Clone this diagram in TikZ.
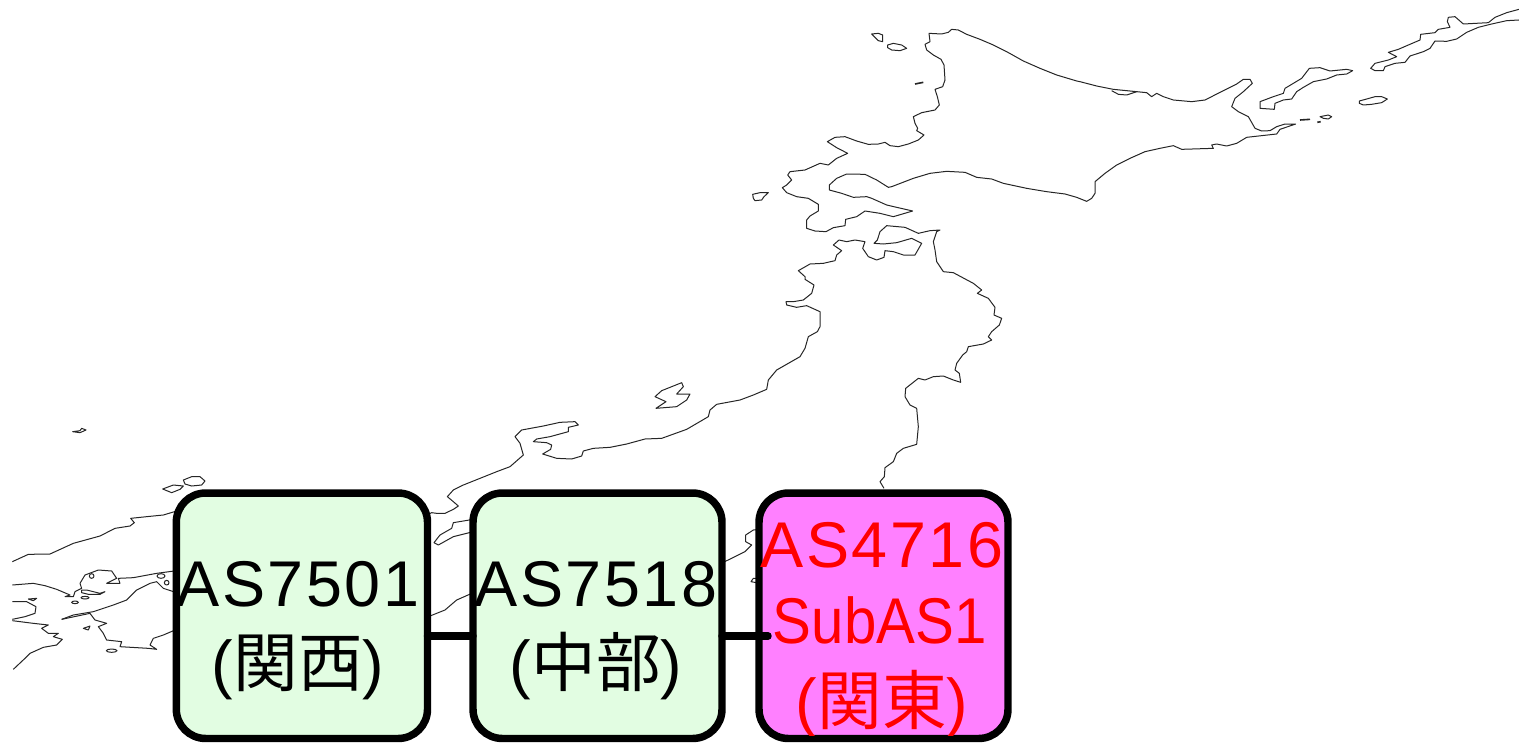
\documentclass[tikz,border=0pt]{standalone}
\usepackage{fontspec}
\setmainfont{Liberation Sans}
\newfontfamily\lsfont[LetterSpace=4]{Liberation Sans}
\newfontfamily\cjkf{Noto Sans CJK JP}
\newcommand{\cj}[1]{{\cjkf #1}}
\definecolor{boxgreen}{HTML}{E2FDE2}
\definecolor{boxpink}{HTML}{FF80FF}
\tikzset{
  coast/.style={draw=black!85,line width=0.75pt,line join=round},
  islet/.style={coast,line width=1.2pt},
  asbox/.style={draw=black,line width=5.6pt,rounded corners=22pt,inner sep=0pt,outer sep=0pt,minimum height=184.1pt},
  astext/.style={align=center,inner sep=0pt,font=\fontsize{48.5pt}{60.5pt}\selectfont},
  link/.style={draw=black,line width=5.6pt,line cap=round},
  zoomA/.style={shift={(740,0)},x=0.25pt,y=-0.25pt},
  zoomB/.style={shift={(1080,0)},x=0.25pt,y=-0.25pt},
  zoomC/.style={shift={(740,220)},x=0.25pt,y=-0.25pt},
  zoomD/.style={shift={(420,370)},x=0.25pt,y=-0.25pt},
  zoomE/.style={shift={(0,410)},x=0.25pt,y=-0.25pt}
}
\begin{document}
\begin{tikzpicture}[x=0.75pt,y=-0.75pt]
\useasboundingbox (0,0) rectangle (1519,742);
% Hokkaido, west
\begin{scope}[zoomA]
\draw[coast] (1020,245) -- (1010,243) -- (950,225) -- (900,205) -- (850,183) -- (800,155) -- (760,135) -- (720,118) -- (680,103) -- (655,90) -- (635,88) -- (625,97) -- (605,102) -- (567,100) -- (570,125) -- (555,133) -- (560,150) -- (580,165) -- (603,178) -- (612,195) -- (615,240) -- (608,260) -- (585,268) -- (592,290) -- (598,315) -- (585,330) -- (545,338) -- (520,350) -- (525,370) -- (533,385) -- (530,392) -- (552,405) -- (535,420) -- (505,432) -- (475,440) -- (450,437) -- (435,427) -- (415,432) -- (385,433) -- (350,423) -- (315,410) -- (285,412) -- (262,425) -- (290,443) -- (323,460) -- (290,475) -- (265,495) -- (240,490) -- (195,510) -- (150,515) -- (143,525) -- (155,540) -- (140,555) -- (127,563) -- (140,578) -- (170,590) -- (205,595) -- (235,613) -- (235,633) -- (210,648) -- (200,660) -- (200,685) -- (225,693) -- (258,695) -- (280,683) -- (315,677) -- (317,658) -- (350,650) -- (375,633) -- (420,640) -- (460,650) -- (518,633) -- (470,622) -- (440,615) -- (395,595) -- (380,590) -- (340,592) -- (305,580) -- (268,570) -- (268,555) -- (290,535) -- (320,522) -- (375,523) -- (410,540) -- (445,562) -- (455,560) -- (520,535) -- (570,520) -- (620,514) -- (675,517) -- (710,532) -- (755,537) -- (790,550) -- (860,565) -- (920,575) -- (975,582) -- (1010,592) -- (1040,604) -- (1055,595) -- (1065,580) -- (1065,545);
\draw[coast] (395,102) -- (415,100) -- (428,105) -- (428,125) -- (415,122) -- (405,112) -- cycle;
\draw[coast] (443,135) -- (460,130) -- (485,135) -- (500,145) -- (480,152) -- (455,150) -- (443,143) -- cycle;
\draw[islet] (525,252) -- (550,247);
\draw[coast] (38,583) -- (60,578) -- (85,578) -- (72,590) -- (65,600) -- (45,602) -- (40,595) -- cycle;
\end{scope}
% Hokkaido, east and Kurils
\begin{scope}[zoomB]
\draw[coast] (45,545) -- (75,520) -- (110,495) -- (150,475) -- (195,455) -- (240,445) -- (280,437) -- (305,448) -- (400,445) -- (395,435) -- (410,432) -- (440,438) -- (470,430) -- (500,412) -- (590,402) -- (600,388) -- (647,372) -- (615,372) -- (590,380) -- (570,392) -- (545,393) -- (525,385) -- (505,350) -- (475,335) -- (455,320) -- (465,295) -- (490,275) -- (517,250) -- (510,238) -- (490,238) -- (470,252) -- (430,272) -- (375,300) -- (335,305) -- (280,300) -- (250,290) -- (230,280) -- (215,290) -- (200,278) -- (170,275) -- (100,268) -- (50,258) -- (0,245);
\draw[coast] (95,272) -- (115,283) -- (140,285) -- (170,275);
\draw[coast] (540,305) -- (580,290) -- (610,280) -- (615,265) -- (640,250) -- (665,235) -- (688,205) -- (720,203) -- (750,213) -- (800,208) -- (818,212) -- (800,222) -- (770,225) -- (740,237) -- (700,245) -- (670,262) -- (650,275) -- (635,297) -- (610,300) -- (585,310) -- (583,328) -- (540,325) -- cycle;
\draw[coast] (1317,28) -- (1280,38) -- (1245,52) -- (1225,68) -- (1150,72) -- (1125,50) -- (1105,52) -- (1102,65) -- (1110,82) -- (1075,88) -- (1065,98) -- (1022,103) -- (1020,120) -- (985,135) -- (955,148) -- (925,157) -- (950,170) -- (925,180) -- (885,190) -- (872,205) -- (885,212) -- (910,212) -- (915,200) -- (945,190) -- (975,187) -- (990,168) -- (1030,155) -- (1050,145) -- (1065,123) -- (1100,124) -- (1130,117) -- (1160,97) -- (1195,82) -- (1235,72) -- (1280,62) -- (1317,60);
\draw[coast] (838,303) -- (860,297) -- (885,290) -- (905,290) -- (922,297) -- (905,308) -- (875,313) -- (850,315) -- (838,310) -- cycle;
\draw[islet] (660,360) -- (690,358);
\draw[islet] (712,367) -- (722,365);
\draw[coast] (720,350) -- (745,345) -- (755,350) -- (745,357) -- (730,355) -- cycle;
\end{scope}
% Honshu, north
\begin{scope}[zoomC]
\draw[coast] (432,805) -- (420,785) -- (433,770) -- (435,743) -- (460,725) -- (470,700) -- (490,685) -- (530,673) -- (535,620) -- (530,565) -- (510,555) -- (495,530) -- (497,505) -- (535,475) -- (555,480) -- (580,470) -- (610,468) -- (640,480) -- (662,487) -- (658,460) -- (645,450) -- (650,430) -- (668,405) -- (680,395) -- (685,380) -- (730,372) -- (755,360) -- (745,350) -- (755,335) -- (778,315) -- (785,295) -- (762,285) -- (765,262) -- (745,235) -- (712,220) -- (725,210) -- (700,190) -- (640,158) -- (610,155) -- (590,125) -- (585,90) -- (580,65) -- (590,35) -- (600,30) -- (570,32) -- (535,40) -- (495,22) -- (440,17) -- (420,35) -- (412,60) -- (402,70) -- (430,72) -- (470,68) -- (515,55) -- (545,70) -- (525,105) -- (490,105) -- (460,95) -- (435,92) -- (432,112) -- (410,120) -- (385,110) -- (368,85) -- (375,65) -- (345,60) -- (320,65) -- (297,60) -- (280,75) -- (305,92) -- (290,105) -- (285,122) -- (250,130) -- (210,132) -- (175,152) -- (195,170) -- (195,178) -- (222,195) -- (215,220) -- (190,240) -- (160,245) -- (138,245) -- (140,255) -- (170,262) -- (200,257) -- (240,275) -- (240,320) -- (232,335) -- (205,350) -- (195,385) -- (180,410) -- (110,450) -- (85,480) -- (80,508) -- (40,525) -- (0,540);
\end{scope}
% Honshu, centre
\begin{scope}[zoomD]
\draw[coast] (960,90) -- (890,103) -- (870,120) -- (865,140) -- (800,178) -- (725,205) -- (675,207) -- (620,222) -- (570,232) -- (520,235) -- (490,243) -- (485,258) -- (455,267) -- (410,265) -- (368,252) -- (392,238) -- (395,225) -- (380,218) -- (340,215) -- (350,207) -- (390,200) -- (445,185) -- (445,172) -- (475,165) -- (465,155) -- (420,157) -- (370,168) -- (305,180) -- (285,200) -- (300,220) -- (310,255) -- (270,290) -- (230,305) -- (180,325) -- (130,345) -- (100,360) -- (82,380) -- (100,395) -- (115,408) -- (100,418) -- (75,430) -- (50,430) -- (35,428) -- (20,435);
\draw[coast] (705,80) -- (725,62) -- (785,38) -- (790,50) -- (770,72) -- (810,72) -- (800,90) -- (770,110) -- (708,115) -- (738,95) -- cycle;
\draw[coast] (160,448) -- (100,458) -- (95,475) -- (60,495) -- (42,518) -- (55,525) -- (100,500) -- (160,485);
\draw[coast] (160,668) -- (110,690) -- (75,720) -- (20,742);
\draw[coast] (1020,478) -- (1000,480) -- (977,495) -- (977,515) -- (995,525) -- (975,545) -- (900,582);
\draw[coast] (1020,625) -- (1000,625) -- (993,635) -- (1020,640);
\end{scope}
% Western Japan
\begin{scope}[zoomE]
\draw[coast] (218,65) -- (240,62) -- (245,55) -- (258,60) -- (240,68) -- cycle;
\draw[coast] (575,200) -- (600,200) -- (615,213) -- (605,225) -- (575,228) -- (555,222) -- (550,210) -- cycle;
\draw[coast] (488,237) -- (520,225) -- (550,228) -- (540,238) -- (515,248) -- cycle;
\draw[coast] (37,455) -- (85,433) -- (150,432) -- (220,400) -- (300,378) -- (345,355) -- (390,348) -- (403,338) -- (392,325) -- (440,320) -- (490,315) -- (530,303);
\draw[coast] (37,525) -- (100,520) -- (135,527) -- (170,538) -- (210,555) -- (195,560) -- (220,560) -- (225,545) -- (245,535) -- (240,520) -- (255,495) -- (295,480) -- (335,483) -- (350,505) -- (320,520) -- (360,520) -- (355,505) -- (400,503) -- (470,490) -- (530,482);
\draw[coast] (185,628) -- (220,615) -- (280,605) -- (340,585) -- (380,570) -- (410,540) -- (450,520) -- (470,515) -- (490,535) -- (530,548);
\draw[coast] (185,628) -- (270,610) -- (285,630) -- (320,640) -- (295,650) -- (310,670) -- (320,690) -- (365,695) -- (360,710) -- (445,715) -- (470,718) -- (450,705) -- (460,685) -- (490,675) -- (530,658);
\draw[coast] (37,575) -- (80,575) -- (108,590) -- (105,610) -- (75,620) -- (37,628);
\draw[coast] (37,632) -- (100,640) -- (145,645) -- (125,655) -- (145,670) -- (175,670) -- (160,680) -- (187,688) -- (170,705) -- (130,712) -- (90,730) -- (75,745) -- (40,778);
\draw[coast] (245,540) -- (260,540) -- (300,550) -- (315,545) -- (300,553) -- (265,553) -- (245,548) -- cycle;
\draw[coast] (275,498) circle[radius=7];
\draw[coast] (85,567) -- (110,565) -- (100,572) -- cycle;
\draw[coast] (225,577) ellipse[x radius=10,y radius=4];
\draw[coast] (255,563) ellipse[x radius=12,y radius=4];
\draw[coast] (250,655) -- (270,648) -- (265,660) -- cycle;
\draw[coast] (335,722) ellipse[x radius=16,y radius=5];
\draw[coast] (483,498) ellipse[x radius=12,y radius=7];
\draw[coast] (500,518) circle[radius=7];
\end{scope}
% Boxes
\node[asbox,fill=boxgreen,minimum width=188.4pt] (kansai) at (301.9,615.75) {};
\node[asbox,fill=boxgreen,minimum width=186.75pt] (chubu) at (597.5,615.75) {};
\node[asbox,fill=boxpink,minimum width=186.75pt] (kanto) at (883.5,615.75) {};
\node[astext] (kansaitext) at (298,630.5) {{\lsfont AS7501}\\(\cj{関西})};
\node[astext] (chubutext) at (596,630.5) {{\lsfont AS7518}\\(\cj{中部})};
\begin{scope}
\clip (750,490) rectangle (1015,735);
\node[astext,text=red] (kantotext) at (882,630) {{\lsfont AS4716}\\[-3.5pt]\scalebox{0.9}[1]{\kern-4pt SubAS1}\\[0.5pt](\cj{関東})};
\end{scope}
% Links
\coordinate (level) at (0,636);
\coordinate (linkend) at (768,636);
\draw[link] (kansai.east |- level) -- (chubu.west |- level);
\draw[link] (chubu.east |- level) -- (linkend);
\end{tikzpicture}
\end{document}
